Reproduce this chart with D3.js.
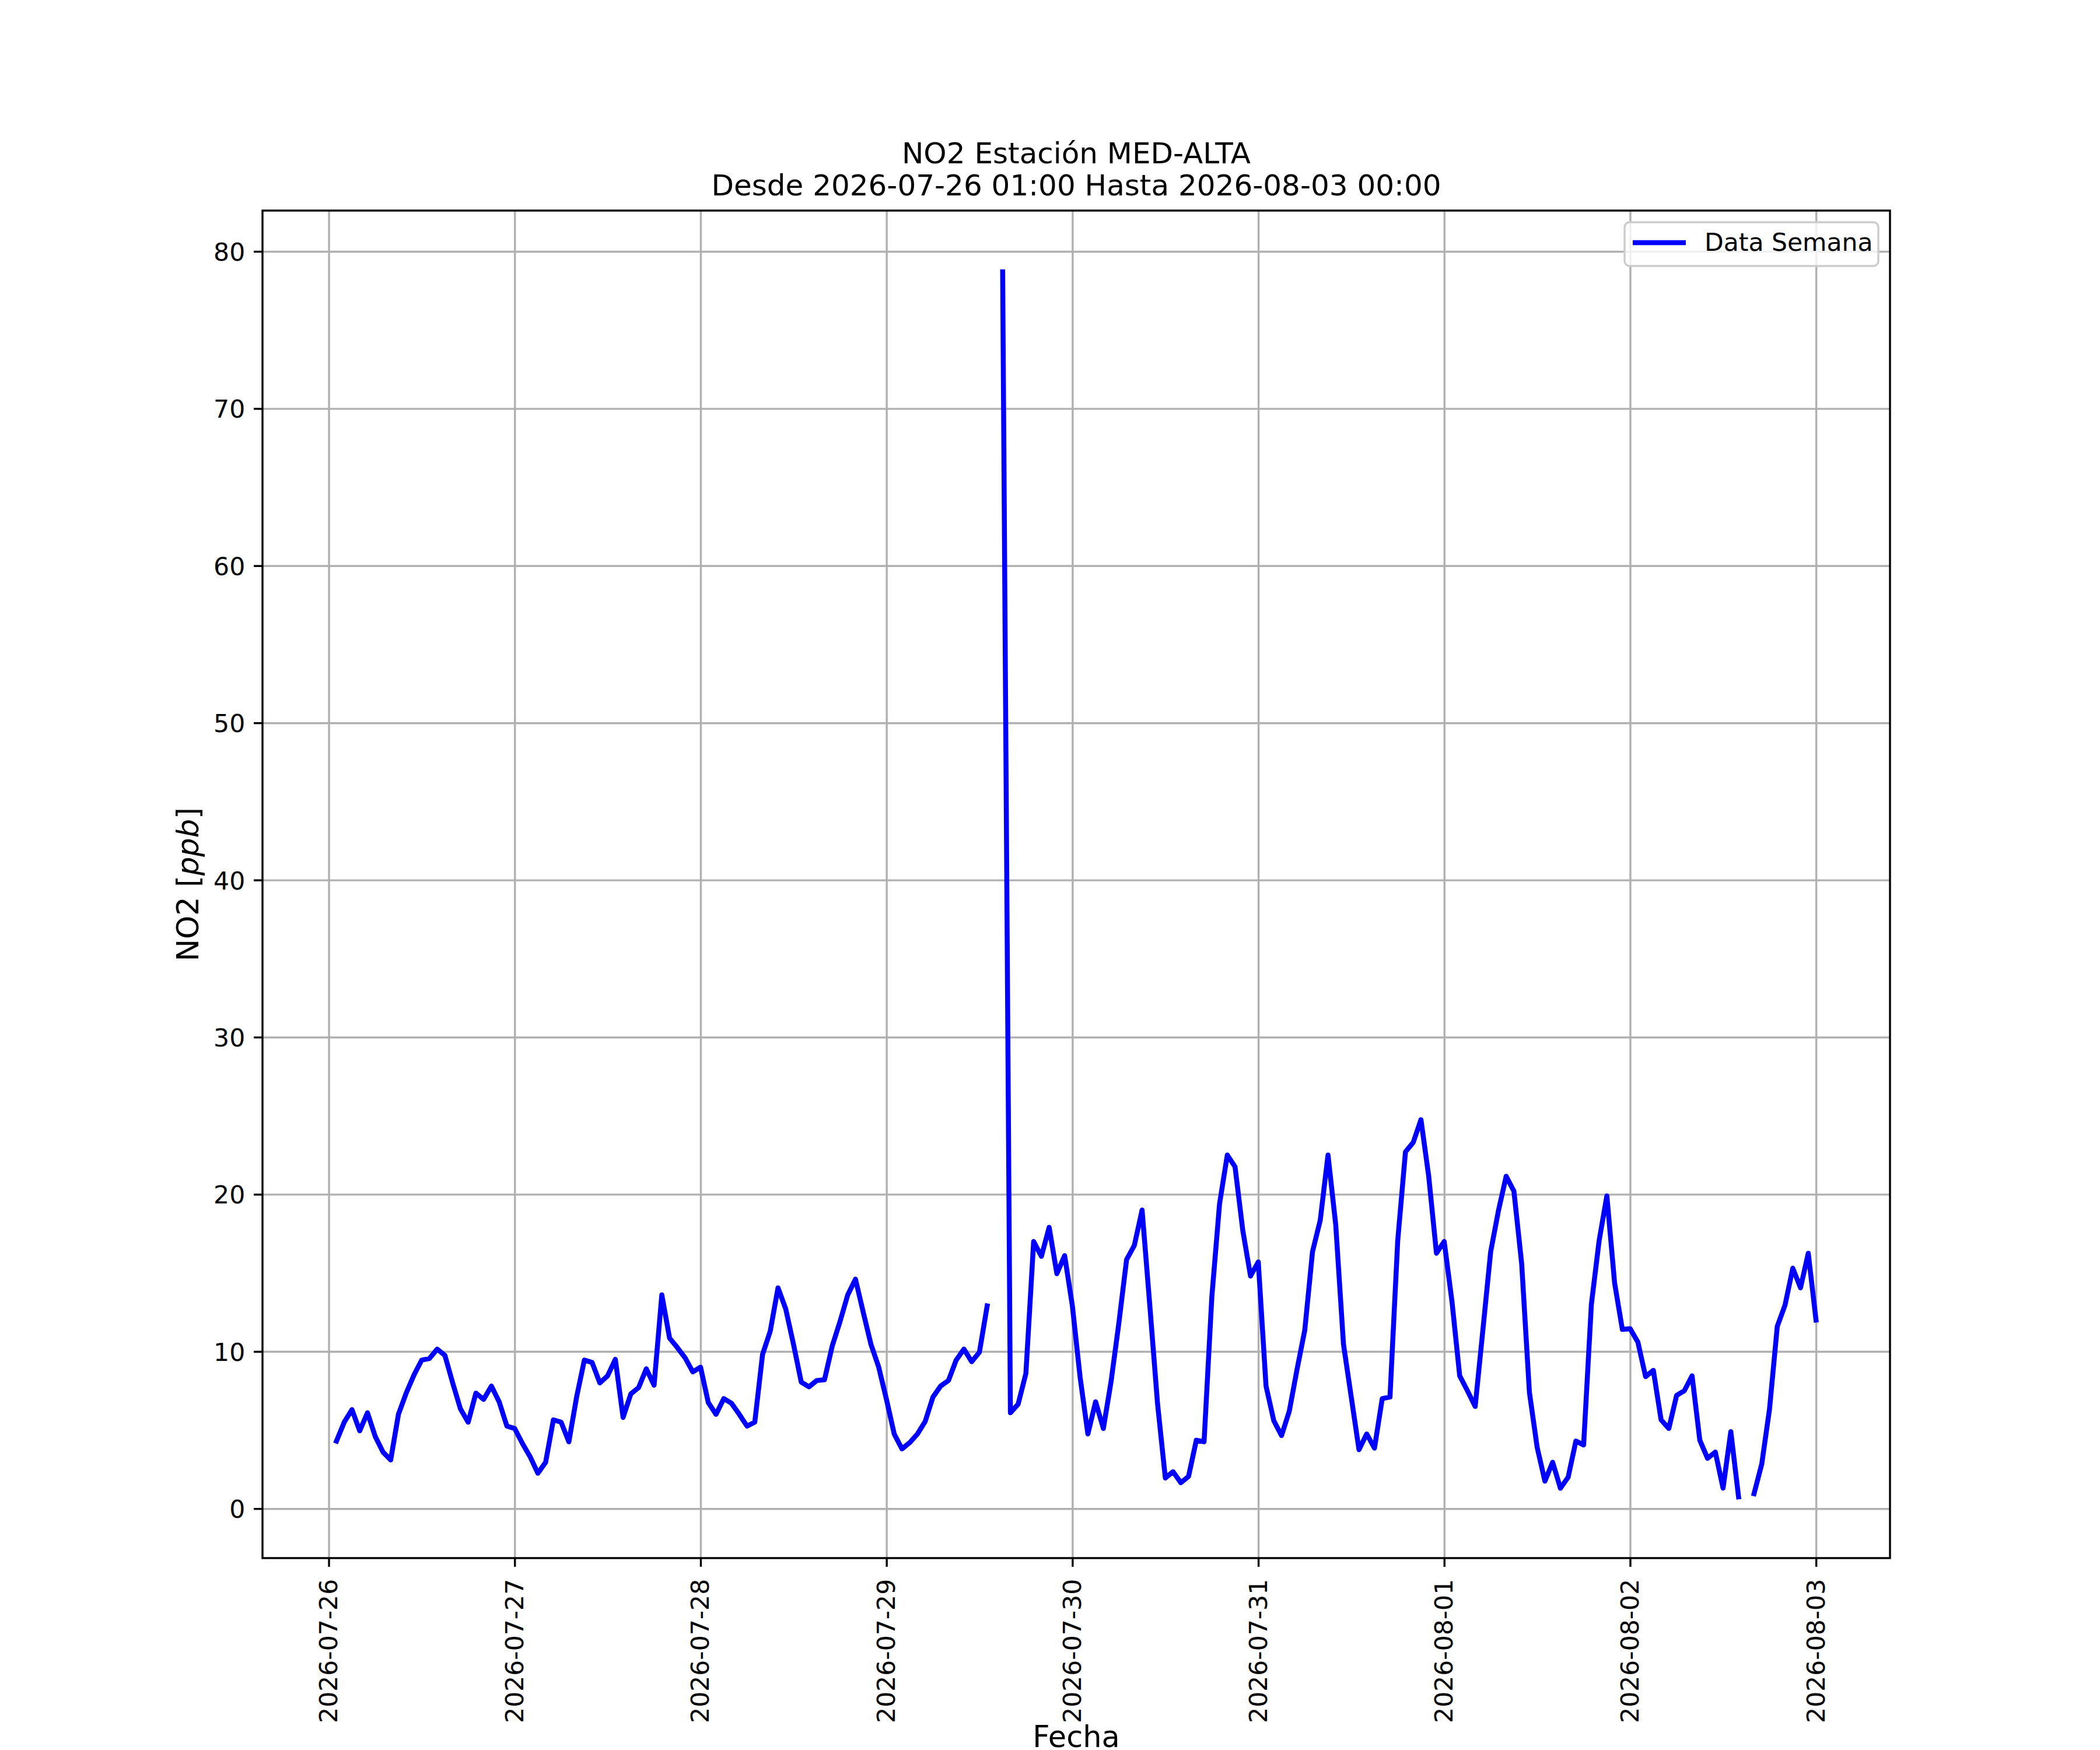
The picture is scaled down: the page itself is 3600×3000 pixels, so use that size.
<!DOCTYPE html>
<html>
<head>
  <meta charset="utf-8">
  <script src="https://cdn.jsdelivr.net/npm/d3@7"></script>
  <style>
    body { margin: 0; background: #fff; }
    text { font-family: "DejaVu Sans", sans-serif; }
  </style>
</head>
<body>
<svg id="chart" width="3600" height="3000"></svg>
<script>
  // hourly NO2 readings, 2026-07-26 01:00 .. 2026-08-03 00:00 (null = no data)
  const startHour = Date.UTC(2026, 6, 26, 1)
  const no2 = [
    4.3, 5.5, 6.3, 4.95, 6.1, 4.6, 3.6, 3.1, 6.0, 7.35, 8.5, 9.45,
    9.55, 10.15, 9.75, 8.0, 6.35, 5.5, 7.35, 6.95, 7.8, 6.8, 5.25, 5.1,
    4.15, 3.3, 2.25, 2.95, 5.65, 5.5, 4.25, 7.1, 9.45, 9.3, 8.0, 8.45,
    9.5, 5.8, 7.3, 7.7, 8.9, 7.85, 13.6, 10.85, 10.25, 9.6, 8.7, 9.0,
    6.75, 6.0, 7.0, 6.7, 6.0, 5.25, 5.5, 9.8, 11.3, 14.05, 12.7, 10.45,
    8.05, 7.75, 8.15, 8.2, 10.35, 11.9, 13.6, 14.6, 12.5, 10.45, 9.0, 6.95,
    4.75, 3.8, 4.2, 4.75, 5.55, 7.1, 7.8, 8.15, 9.45, 10.15, 9.35, 9.95,
    12.9, null, 78.7, 6.1, 6.65, 8.6, 17.0, 16.05, 17.9, 14.95, 16.1, 12.9,
    8.35, 4.75, 6.8, 5.1, 8.1, 11.8, 15.85, 16.75, 19.0, 12.9, 6.65, 1.95,
    2.35, 1.65, 2.05, 4.35, 4.25, 13.45, 19.4, 22.5, 21.75, 17.7, 14.8, 15.7,
    7.8, 5.6, 4.65, 6.2, 8.85, 11.35, 16.35, 18.35, 22.5, 18.05, 10.45, 7.1,
    3.75, 4.75, 3.85, 7.0, 7.1, 17.05, 22.7, 23.3, 24.75, 21.15, 16.25, 17.0,
    13.2, 8.45, 7.5, 6.5, 11.4, 16.35, 18.95, 21.15, 20.2, 15.6, 7.4, 3.9,
    1.75, 2.95, 1.3, 2.0, 4.3, 4.05, 13.0, 17.05, 19.9, 14.35, 11.4, 11.45,
    10.6, 8.4, 8.8, 5.65, 5.1, 7.2, 7.5, 8.45, 4.35, 3.2, 3.6, 1.3,
    4.9, 0.75, null, 0.95, 2.85, 6.35, 11.6, 12.95, 15.3, 14.05, 16.25, 12.0
  ]
  const dayTicks = ["2026-07-26", "2026-07-27", "2026-07-28", "2026-07-29", "2026-07-30",
                    "2026-07-31", "2026-08-01", "2026-08-02", "2026-08-03"]
  const yTicks = [0, 10, 20, 30, 40, 50, 60, 70, 80]
  const titleLines = ["NO2 Estación MED-ALTA", "Desde 2026-07-26 01:00 Hasta 2026-08-03 00:00"]
  const seriesName = "Data Semana"

  const HOUR = 3600 * 1000
  const data = no2.map((v, i) => ({ t: new Date(startHour + i * HOUR), v: v }))

  const L = 450, R = 3240, T = 361, B = 2671
  const lw = 3.4, tickLen = 14.9, pad = 14.9
  const fs = 42.5, fsBig = 51, lineW = 8.5

  // matplotlib style 5% margins
  const tMin = data[0].t.getTime(), tMax = data[data.length - 1].t.getTime()
  const tm = (tMax - tMin) * 0.05
  const vals = no2.filter(v => v != null)
  const vMin = d3.min(vals), vMax = d3.max(vals), vm = (vMax - vMin) * 0.05

  const x = d3.scaleUtc()
              .domain([new Date(tMin - tm), new Date(tMax + tm)])
              .range([L, R])
  const y = d3.scaleLinear()
              .domain([vMin - vm, vMax + vm])
              .range([B, T])

  const svg = d3.select("#chart")
  const dayDates = dayTicks.map(s => new Date(s + "T00:00:00Z"))

  // grid
  svg.append("g")
     .attr("transform", `translate(0,${B})`)
     .call(d3.axisBottom(x).tickValues(dayDates).tickSize(-(B - T)).tickFormat(""))
     .call(g => g.select(".domain").remove())
     .selectAll("line").attr("stroke", "#b0b0b0").attr("stroke-width", lw)
  svg.append("g")
     .attr("transform", `translate(${L},0)`)
     .call(d3.axisLeft(y).tickValues(yTicks).tickSize(-(R - L)).tickFormat(""))
     .call(g => g.select(".domain").remove())
     .selectAll("line").attr("stroke", "#b0b0b0").attr("stroke-width", lw)

  // series
  const line = d3.line()
                 .defined(d => d.v != null)
                 .x(d => x(d.t))
                 .y(d => y(d.v))
  svg.append("path")
     .datum(data)
     .attr("d", line)
     .attr("fill", "none")
     .attr("stroke", "#0000ff")
     .attr("stroke-width", lineW)
     .attr("stroke-linejoin", "round")
     .attr("stroke-linecap", "square")

  // axes
  const xAxis = svg.append("g")
     .attr("transform", `translate(0,${B})`)
     .call(d3.axisBottom(x).tickValues(dayDates).tickSize(tickLen).tickFormat(d3.utcFormat("%Y-%m-%d")))
  xAxis.select(".domain").remove()
  xAxis.selectAll("line").attr("stroke", "#000").attr("stroke-width", lw)
  xAxis.selectAll("text")
       .attr("transform", "rotate(-90)")
       .attr("text-anchor", "end")
       .attr("x", -(tickLen + pad + 6))
       .attr("y", 14)
       .attr("dy", null)
       .attr("font-size", fs)
       .attr("font-family", "DejaVu Sans")
       .attr("fill", "#000")

  const yAxis = svg.append("g")
     .attr("transform", `translate(${L},0)`)
     .call(d3.axisLeft(y).tickValues(yTicks).tickSize(tickLen).tickFormat(d3.format("d")))
  yAxis.select(".domain").remove()
  yAxis.selectAll("line").attr("stroke", "#000").attr("stroke-width", lw)
  yAxis.selectAll("text")
       .attr("x", -(tickLen + pad))
       .attr("dy", 15.5)
       .attr("font-size", fs)
       .attr("font-family", "DejaVu Sans")
       .attr("fill", "#000")

  // spines
  svg.append("rect")
     .attr("x", L).attr("y", T)
     .attr("width", R - L).attr("height", B - T)
     .attr("fill", "none")
     .attr("stroke", "#000")
     .attr("stroke-width", lw)

  // title
  svg.selectAll(".title")
     .data(titleLines)
     .enter()
     .append("text")
     .attr("class", "title")
     .attr("x", (L + R) / 2)
     .attr("y", (d, i) => 280 + i * 55)
     .attr("text-anchor", "middle")
     .attr("font-size", 50)
     .text(d => d)

  // axis labels
  svg.append("text")
     .attr("x", (L + R) / 2)
     .attr("y", 2995)
     .attr("text-anchor", "middle")
     .attr("font-size", fsBig)
     .text("Fecha")

  const yl = svg.append("text")
     .attr("transform", `translate(340,${(T + B) / 2}) rotate(-90)`)
     .attr("text-anchor", "middle")
     .attr("font-size", fsBig)
  yl.append("tspan").text("NO2 [")
  yl.append("tspan").attr("font-style", "italic").text("ppb")
  yl.append("tspan").text("]")

  // legend
  const lg = svg.append("g")
  lg.append("rect")
    .attr("x", 2785).attr("y", 381)
    .attr("width", 435).attr("height", 75)
    .attr("rx", 8.5)
    .attr("fill", "#fff").attr("fill-opacity", 0.8)
    .attr("stroke", "#cccccc").attr("stroke-width", lw)
  lg.append("line")
    .attr("x1", 2799).attr("x2", 2890)
    .attr("y1", 416).attr("y2", 416)
    .attr("stroke", "#0000ff").attr("stroke-width", lineW)
  lg.append("text")
    .attr("x", 2922).attr("y", 430)
    .attr("font-size", fs)
    .text(seriesName)
</script>
</body>
</html>
